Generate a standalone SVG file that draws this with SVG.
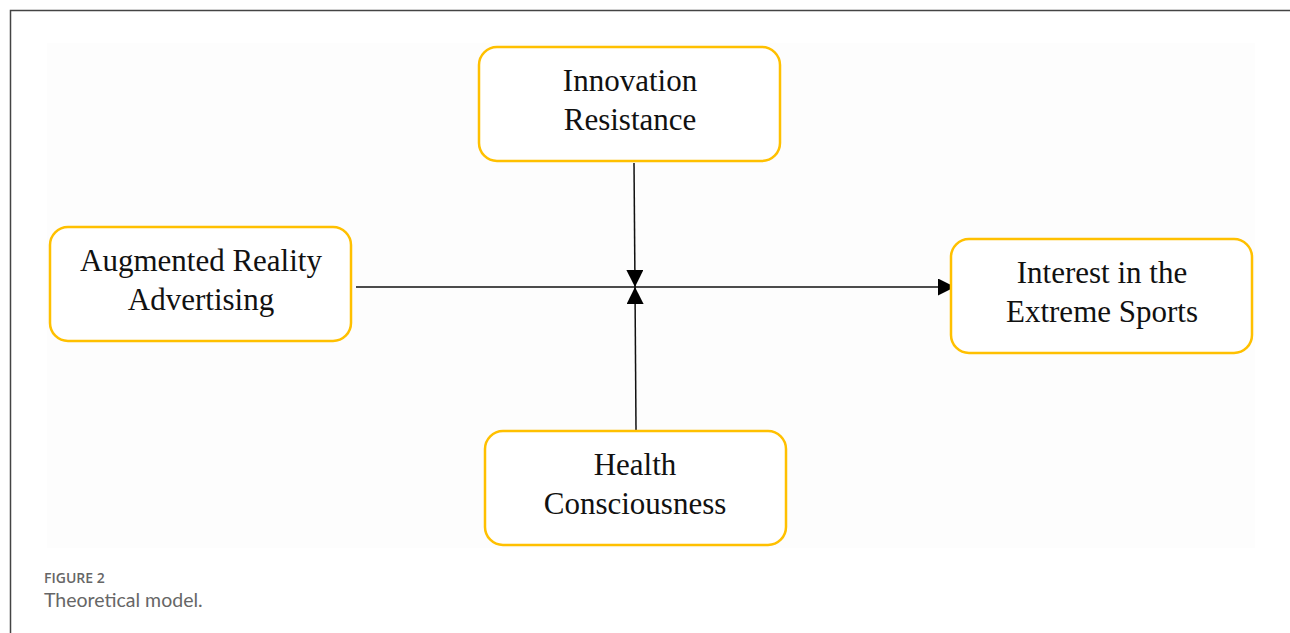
<svg xmlns="http://www.w3.org/2000/svg" width="1290" height="633" viewBox="0 0 1290 633">
<style>
.box{fill:#fff;stroke:#FFC000;stroke-width:2.5}
.lbl{font-family:"Liberation Serif","Times New Roman",serif;font-size:31px;fill:#111;text-anchor:middle}
.con{stroke:#111;stroke-width:1.5;fill:none}
.cap1{font-family:"Open Sans","Noto Sans",sans-serif;font-size:14px;font-weight:600;fill:#666}
.cap2{font-family:"Lato","Open Sans",sans-serif;font-size:19.5px;fill:#666}
</style>
<defs>
<marker id="arr" viewBox="0 0 10 10" refX="10" refY="5" markerWidth="17" markerHeight="17" markerUnits="userSpaceOnUse" orient="auto">
<path d="M0,0 L10,5 L0,10 Z" fill="#000"/>
</marker>
</defs>
<rect x="0" y="0" width="1290" height="633" fill="#fff"/>
<path d="M10.5,633 V10.5 H1290" fill="none" stroke="#444" stroke-width="1.5"/>
<rect x="47" y="43" width="1208" height="505" fill="#fdfdfd"/>
<g id="connectors">
<line class="con" x1="356" y1="287" x2="955" y2="287" marker-end="url(#arr)"/>
<line class="con" x1="634" y1="163" x2="635" y2="287" marker-end="url(#arr)"/>
<line class="con" x1="636" y1="430" x2="635" y2="287" marker-end="url(#arr)"/>
</g>
<g id="innovation">
<rect class="box" x="479" y="47" width="301" height="114" rx="18"/>
<text class="lbl" x="630" y="91">Innovation</text>
<text class="lbl" x="630" y="130">Resistance</text>
</g>
<g id="augmented">
<rect class="box" x="50" y="227" width="301" height="114" rx="18"/>
<text class="lbl" x="201" y="271">Augmented Reality</text>
<text class="lbl" x="201" y="310">Advertising</text>
</g>
<g id="interest">
<rect class="box" x="951" y="239" width="301" height="114" rx="18"/>
<text class="lbl" x="1102" y="283">Interest in the</text>
<text class="lbl" x="1102" y="322">Extreme Sports</text>
</g>
<g id="health">
<rect class="box" x="485" y="431" width="301" height="114" rx="18"/>
<text class="lbl" x="635" y="475">Health</text>
<text class="lbl" x="635" y="514">Consciousness</text>
</g>
<text class="cap1" x="44" y="583">FIGURE 2</text>
<text class="cap2" x="44" y="607">Theoretical model.</text>
</svg>
